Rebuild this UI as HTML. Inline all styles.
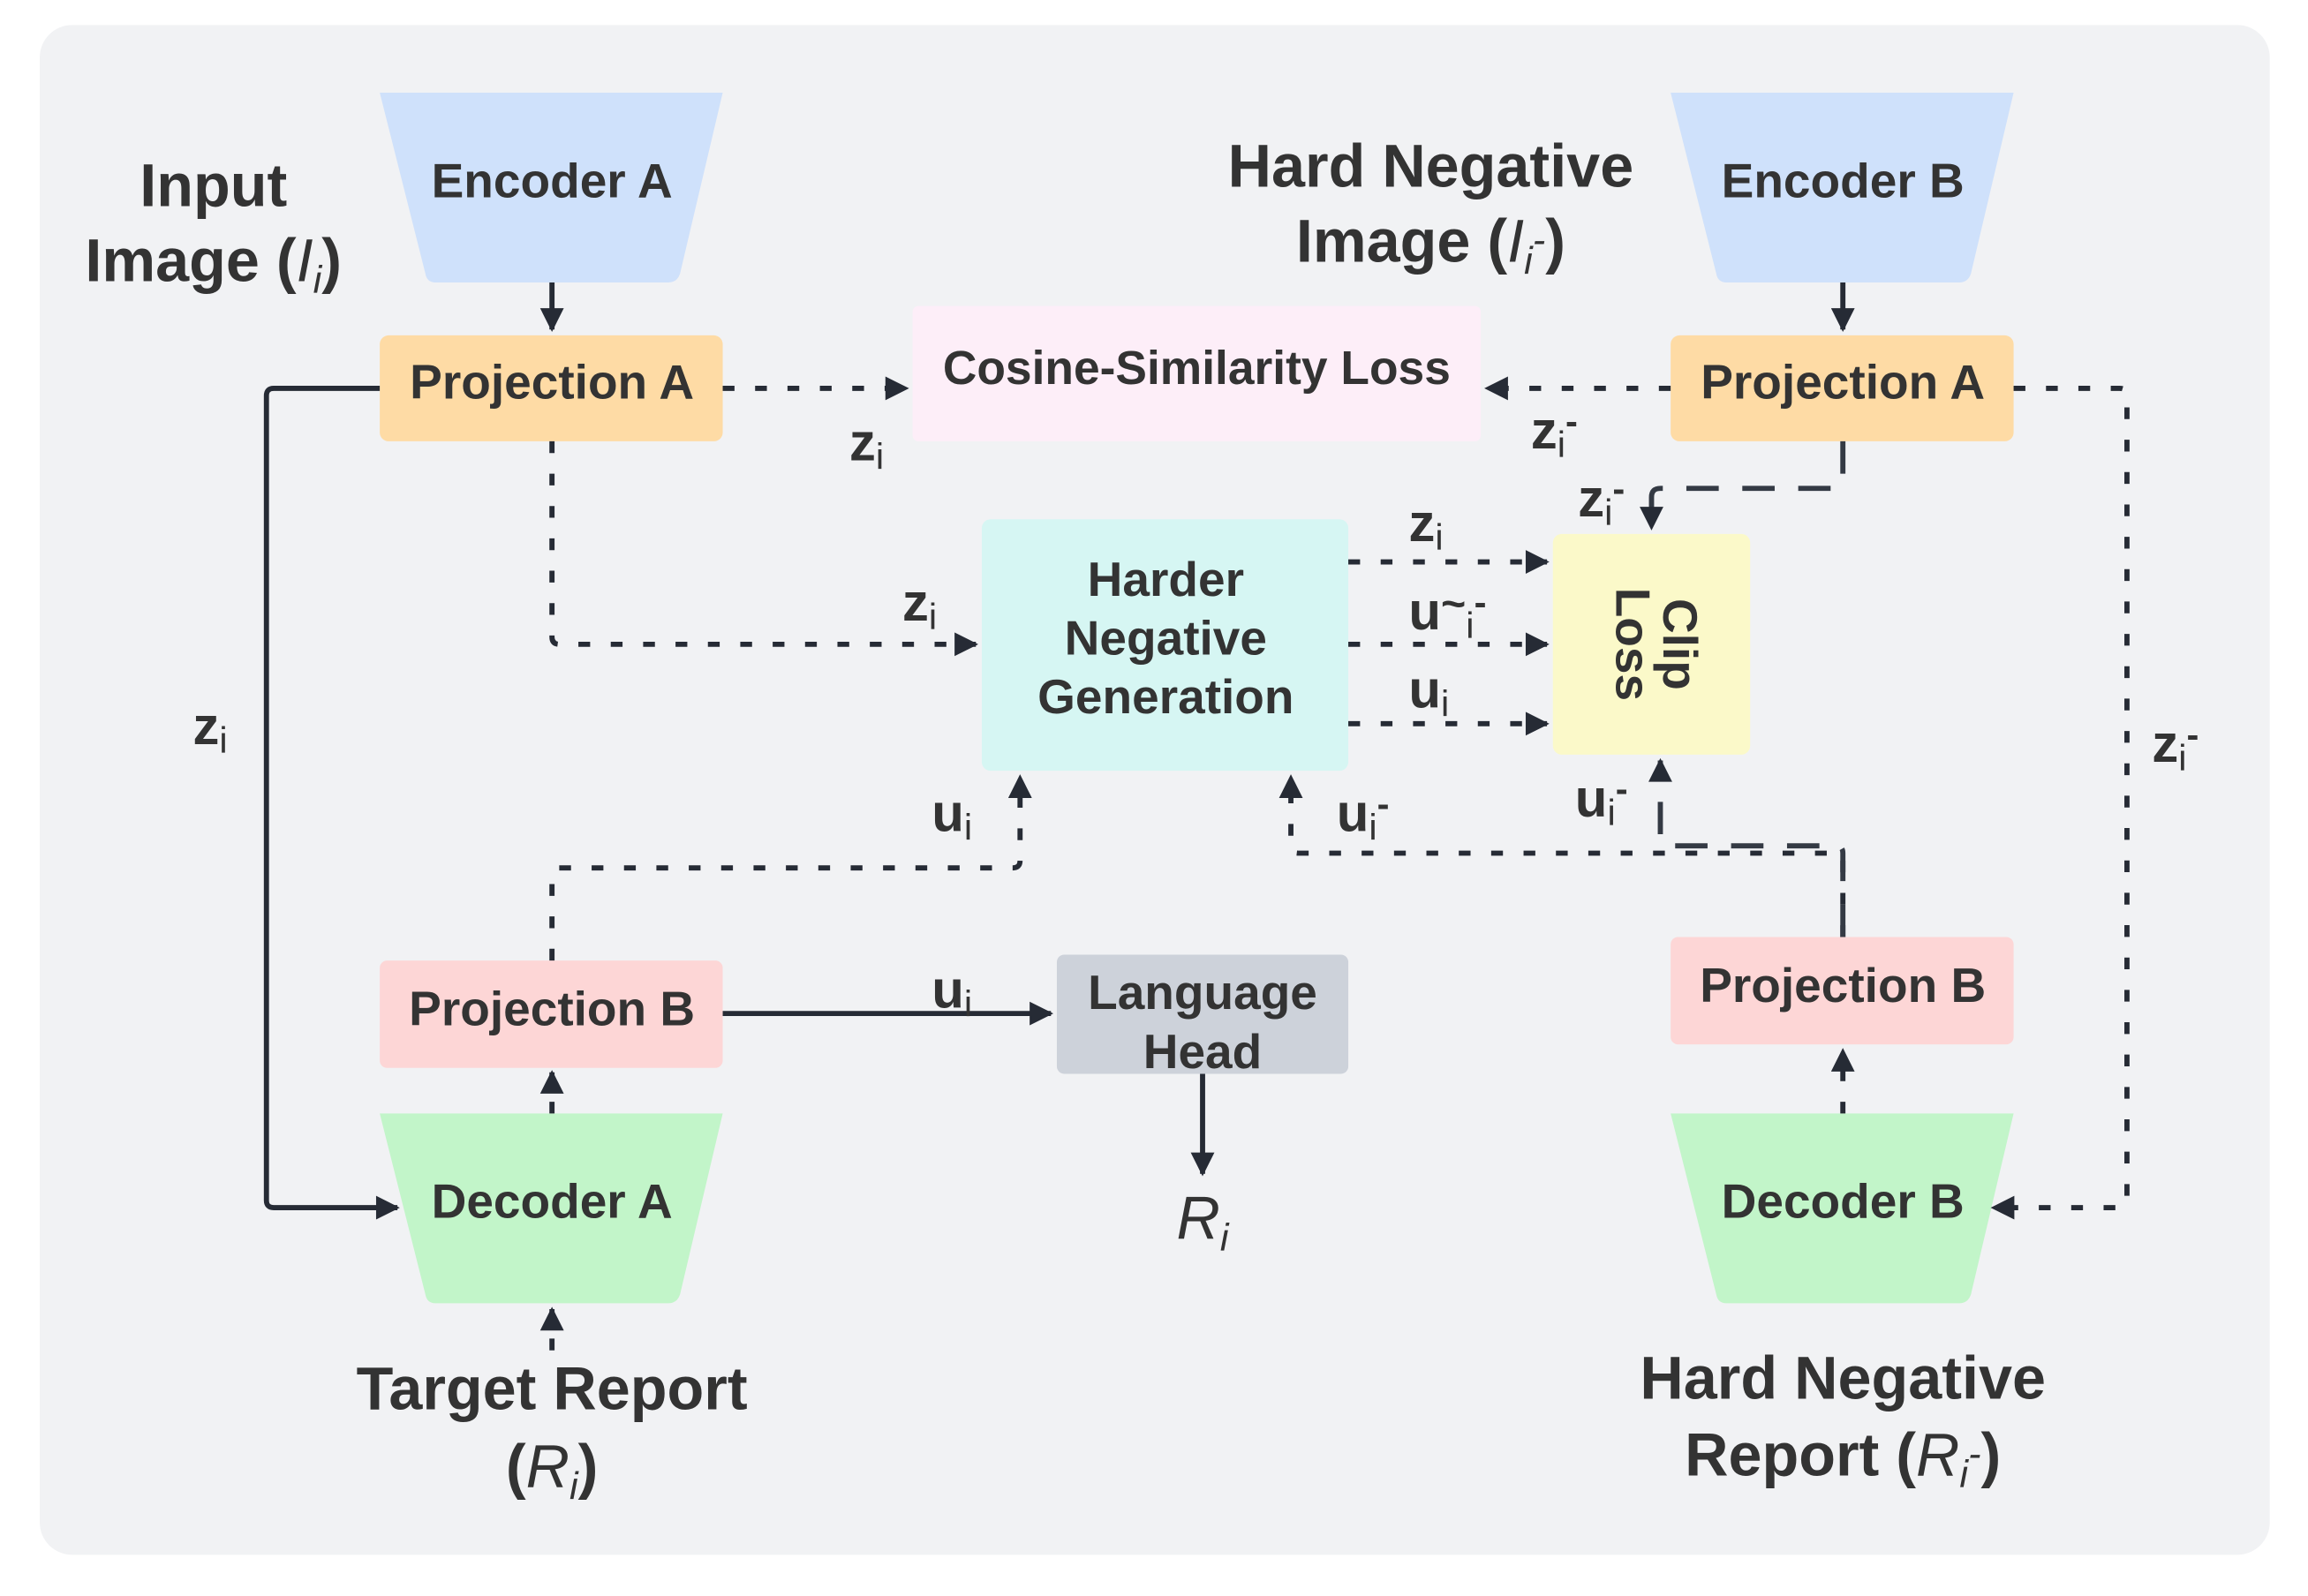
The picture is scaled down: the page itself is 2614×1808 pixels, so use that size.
<!DOCTYPE html>
<html><head><meta charset="utf-8"><style>
html,body{margin:0;padding:0;background:#fff;}
svg{display:block;}
text{font-family:"Liberation Sans",Arial,sans-serif;fill:#333;font-weight:bold;}
.n{font-weight:normal;}
</style></head><body>
<svg width="2614" height="1808" viewBox="0 0 1568 1085" preserveAspectRatio="none" xmlns="http://www.w3.org/2000/svg">
<defs>
<marker id="ah" viewBox="0 0 10 10" refX="9" refY="5" markerWidth="5" markerHeight="4.6" orient="auto" markerUnits="strokeWidth">
<path d="M0,0 L10,5 L0,10 z" fill="#262b35"/></marker>
</defs>
<rect x="27" y="17" width="1515" height="1040" rx="22" fill="#f1f2f4"/>
<path d="M258,63 H491 L462,186 Q460,192 454,192 H296 Q290,192 289,186 Z" fill="#cfe1fb"/>
<path d="M1135,63 H1368 L1339,186 Q1337,192 1331,192 H1173 Q1167,192 1166,186 Z" fill="#cfe1fb"/>
<path d="M258,757 H491 L462,880 Q460,886 454,886 H296 Q290,886 289,880 Z" fill="#c2f5c9"/>
<path d="M1135,757 H1368 L1339,880 Q1337,886 1331,886 H1173 Q1167,886 1166,880 Z" fill="#c2f5c9"/>
<rect x="258" y="228" width="233" height="72" rx="6" fill="#fedba5"/>
<rect x="1135" y="228" width="233" height="72" rx="6" fill="#fedba5"/>
<rect x="620" y="208" width="386" height="92" rx="4" fill="#fdeef8"/>
<rect x="667" y="353" width="249" height="171" rx="6" fill="#d6f6f3"/>
<rect x="1055" y="363" width="134" height="150" rx="6" fill="#fbf9c9"/>
<rect x="258" y="653" width="233" height="73" rx="5" fill="#fdd6d6"/>
<rect x="1135" y="637" width="233" height="73" rx="5" fill="#fdd6d6"/>
<rect x="718" y="649" width="198" height="81" rx="5" fill="#cdd2da"/>
<g fill="none" stroke="#262b35" stroke-width="3.5" stroke-linejoin="round">
<path d="M375,192 V224" marker-end="url(#ah)"/>
<path d="M1252,192 V224" marker-end="url(#ah)"/>
<path d="M258,264 H186 Q181,264 181,269 V816 Q181,821 186,821 H270" marker-end="url(#ah)"/>
<path d="M491,689 H714" marker-end="url(#ah)"/>
<path d="M817,730 V798" marker-end="url(#ah)"/>
</g>
<g fill="none" stroke="#262b35" stroke-width="3.5" stroke-dasharray="8 14" stroke-linejoin="round">
<path d="M491,264 H616" marker-end="url(#ah)"/>
<path d="M1135,264 H1010" marker-end="url(#ah)"/>
<path d="M1368,264 H1440 Q1445,264 1445,269 V816 Q1445,821 1440,821 H1354" marker-end="url(#ah)"/>
<path d="M375,300 V433 Q375,438 380,438 H663" marker-end="url(#ah)"/>
<path d="M916,382 H1051" marker-end="url(#ah)"/>
<path d="M916,438 H1051" marker-end="url(#ah)"/>
<path d="M916,492 H1051" marker-end="url(#ah)"/>
<path d="M375,653 V595 Q375,590 380,590 H688 Q693,590 693,585 V528" marker-end="url(#ah)"/>
<path d="M1252,637 V585 Q1252,580 1247,580 H882 Q877,580 877,575 V528" marker-end="url(#ah)"/>
<path d="M375,757 V729" marker-end="url(#ah)"/>
<path d="M375,918 V890" marker-end="url(#ah)"/>
<path d="M1252,757 V714" marker-end="url(#ah)"/>
</g>
<g fill="none" stroke="#343a44" stroke-width="3.5" stroke-dasharray="22 16" stroke-linejoin="round">
<path d="M1252,300 V326 Q1252,332 1246,332 H1128 Q1122,332 1122,338 V359" marker-end="url(#ah)"/>
<path d="M1252,637 V580 Q1252,575 1247,575 H1133 Q1128,575 1128,570 V517" marker-end="url(#ah)"/>
</g>
<g font-size="33" text-anchor="middle">
<text x="375" y="134">Encoder A</text>
<text x="1252" y="134">Encoder B</text>
<text x="375" y="271">Projection A</text>
<text x="1252" y="271">Projection A</text>
<text x="813" y="261" font-size="32">Cosine-Similarity Loss</text>
<text x="792" y="405">Harder</text>
<text x="792" y="445">Negative</text>
<text x="792" y="485">Generation</text>
<text x="375" y="697">Projection B</text>
<text x="1252" y="681">Projection B</text>
<text x="817" y="686">Language</text>
<text x="817" y="726">Head</text>
<text x="375" y="828">Decoder A</text>
<text x="1252" y="828">Decoder B</text>
<g transform="translate(1122,438) rotate(90)"><text x="0" y="-8">Clip</text><text x="0" y="24">Loss</text></g>
</g>
<g font-size="41" text-anchor="middle">
<text x="145" y="140">Input</text>
<text x="145" y="191">Image (<tspan class="n" font-style="italic">I<tspan font-size="26" dy="8">i</tspan></tspan><tspan dy="-8">)</tspan></text>
<text x="972" y="127">Hard Negative</text>
<text x="972" y="178">Image (<tspan class="n" font-style="italic">I<tspan font-size="26" dy="8">i</tspan><tspan font-size="26" dy="-14">-</tspan></tspan><tspan dy="6">)</tspan></text>
<text x="375" y="958">Target Report</text>
<text x="375" y="1011">(<tspan class="n" font-style="italic">R<tspan font-size="26" dy="8">i</tspan></tspan><tspan dy="-8">)</tspan></text>
<text x="1252" y="951">Hard Negative</text>
<text x="1252" y="1003">Report (<tspan class="n" font-style="italic">R<tspan font-size="26" dy="8">i</tspan><tspan font-size="26" dy="-14">-</tspan></tspan><tspan dy="6">)</tspan></text>
<text x="817" y="842" class="n" font-style="italic">R<tspan font-size="26" dy="8">i</tspan></text>
</g>
<g font-size="36">
<text x="577" y="313">z<tspan class="n" font-size="25" dy="6">i</tspan></text>
<text x="1040" y="305">z<tspan class="n" font-size="25" dy="6">i</tspan><tspan font-size="25" dy="-16">-</tspan></text>
<text x="1072" y="351">z<tspan class="n" font-size="25" dy="6">i</tspan><tspan font-size="25" dy="-16">-</tspan></text>
<text x="1462" y="518">z<tspan class="n" font-size="25" dy="6">i</tspan><tspan font-size="25" dy="-16">-</tspan></text>
<text x="131" y="506">z<tspan class="n" font-size="25" dy="6">i</tspan></text>
<text x="613" y="422">z<tspan class="n" font-size="25" dy="6">i</tspan></text>
<text x="957" y="368">z<tspan class="n" font-size="25" dy="6">i</tspan></text>
<text x="957" y="428">u<tspan font-size="29" dy="-8">~</tspan><tspan class="n" font-size="25" dy="14">i</tspan><tspan font-size="25" dy="-16">-</tspan></text>
<text x="957" y="481">u<tspan class="n" font-size="25" dy="6">i</tspan></text>
<text x="633" y="565">u<tspan class="n" font-size="25" dy="6">i</tspan></text>
<text x="633" y="685">u<tspan class="n" font-size="25" dy="6">i</tspan></text>
<text x="908" y="565">u<tspan class="n" font-size="25" dy="6">i</tspan><tspan font-size="25" dy="-16">-</tspan></text>
<text x="1070" y="555">u<tspan class="n" font-size="25" dy="6">i</tspan><tspan font-size="25" dy="-16">-</tspan></text>
</g>
</svg>
</body></html>
